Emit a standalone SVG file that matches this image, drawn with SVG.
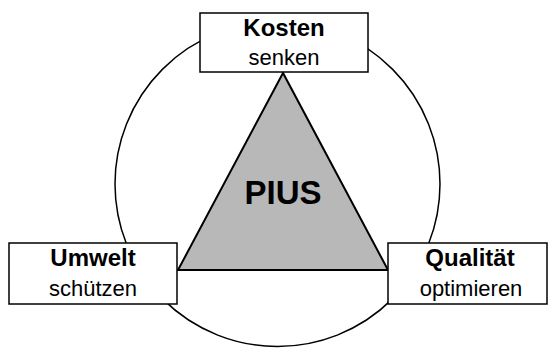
<svg xmlns="http://www.w3.org/2000/svg" width="555" height="350" viewBox="0 0 555 350">
<style>
.box{fill:#fff;stroke:#000;stroke-width:1.5}
.b{font-family:"Liberation Sans",Arial,sans-serif;font-weight:bold;font-size:24px;text-anchor:middle;fill:#000}
.r{font-family:"Liberation Sans",Arial,sans-serif;font-size:22px;text-anchor:middle;fill:#000}
</style>
<rect width="555" height="350" fill="#fff"/>
<g id="connectors">
<circle cx="277.5" cy="184" r="162.5" fill="none" stroke="#000" stroke-width="1.5"/>
</g>
<g id="pius">
<polygon points="283,73 178,270 388,270" fill="#b8b8b8" stroke="#000" stroke-width="2"/>
<text x="283" y="204" font-family="Liberation Sans,Arial,sans-serif" font-weight="bold" font-size="33" text-anchor="middle">PIUS</text>
</g>
<g id="kosten">
<rect class="box" x="200" y="13" width="168" height="59"/>
<text class="b" x="284" y="36">Kosten</text>
<text class="r" x="284" y="65">senken</text>
</g>
<g id="umwelt">
<rect class="box" x="9" y="243" width="168" height="61"/>
<text class="b" x="93" y="266">Umwelt</text>
<text class="r" x="93" y="296">schützen</text>
</g>
<g id="qualitaet">
<rect class="box" x="388" y="243" width="159" height="61"/>
<text class="b" x="470" y="266">Qualität</text>
<text class="r" x="471" y="296">optimieren</text>
</g>
</svg>
